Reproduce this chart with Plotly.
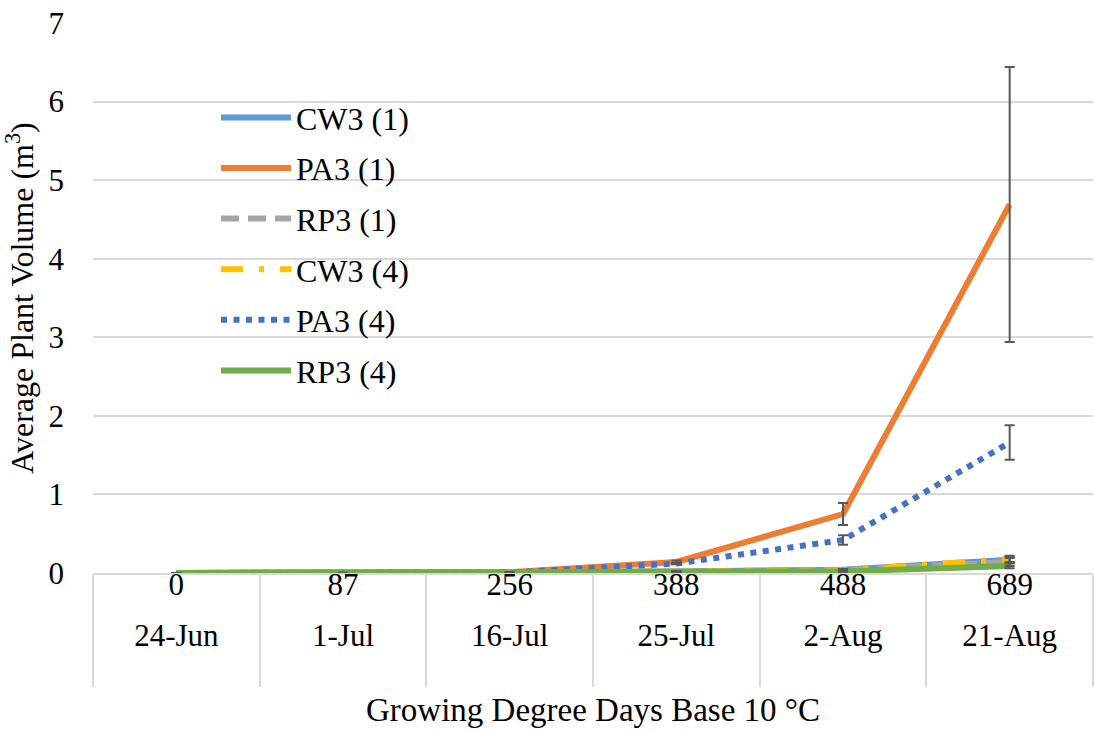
import plotly.graph_objects as go

gdd = ["0", "87", "256", "388", "488", "689"]
dates = ["24-Jun", "1-Jul", "16-Jul", "25-Jul", "2-Aug", "21-Aug"]

series_names = ["CW3 (1)", "PA3 (1)", "RP3 (1)", "CW3 (4)", "PA3 (4)", "RP3 (4)"]
cw3_1 = [0, 0.001, 0.004, 0.02, 0.04, 0.17]
pa3_1 = [0, 0.003, 0.01, 0.14, 0.75, 4.69]
rp3_1 = [0, 0.001, 0.003, 0.02, 0.04, 0.14]
cw3_4 = [0, 0.001, 0.003, 0.015, 0.03, 0.18]
pa3_4 = [0, 0.002, 0.008, 0.12, 0.42, 1.66]
rp3_4 = [0, 0.001, 0.002, 0.01, 0.02, 0.09]

cw3_1_err = [0, 0, 0, 0.005, 0.01, 0.04]
pa3_1_err = [0, 0, 0, 0.02, 0.14, 1.75]
rp3_1_err = [0, 0, 0, 0.005, 0.01, 0.05]
cw3_4_err = [0, 0, 0, 0.005, 0.01, 0.04]
pa3_4_err = [0, 0, 0, 0.01, 0.06, 0.22]
rp3_4_err = [0, 0, 0, 0.003, 0.005, 0.03]

values = [cw3_1, pa3_1, rp3_1, cw3_4, pa3_4, rp3_4]
errors = [cw3_1_err, pa3_1_err, rp3_1_err, cw3_4_err, pa3_4_err, rp3_4_err]
colors = ["#5B9BD5", "#ED7D31", "#A5A5A5", "#FFC000", "#4472C4", "#70AD47"]
dashes = ["solid", "solid", "18px,9px", "22px,16px,5px,16px", "6px,6.5px", "solid"]

FONT = "Liberation Serif"
GRID = "#D9D9D9"
TICK_SIZE = 31

fig = go.Figure()
# lines on the GDD category axis
for i, name in enumerate(series_names):
    fig.add_trace(go.Scatter(
        x=gdd,
        y=values[i],
        name=name,
        mode="lines",
        legendgroup=name,
        line=dict(color=colors[i], width=6, dash=dashes[i]),
        xaxis="x", yaxis="y",
    ))
# error bars on the date category axis (same positions)
for i, name in enumerate(series_names):
    fig.add_trace(go.Scatter(
        x=dates,
        y=values[i],
        name=name,
        mode="markers",
        marker=dict(size=0, color=colors[i], opacity=0),
        legendgroup=name,
        showlegend=False,
        hoverinfo="skip",
        error_y=dict(type="data", array=errors[i], visible=True,
                     color="#595959", thickness=2, width=5),
        xaxis="x2", yaxis="y",
    ))

fig.update_layout(
    width=1094, height=730,
    margin=dict(l=93, r=1, t=23, b=157),
    paper_bgcolor="white", plot_bgcolor="white",
    font=dict(family=FONT, size=TICK_SIZE, color="black"),
    showlegend=True,
    legend=dict(
        x=0.123, y=0.878, xanchor="left", yanchor="top",
        bgcolor="rgba(0,0,0,0)", itemwidth=70,
        tracegroupgap=6,
        font=dict(family=FONT, size=32, color="black"),
    ),
    xaxis=dict(
        type="category",
        categoryorder="array", categoryarray=gdd,
        range=[-0.5, 5.5],
        automargin=False,
        showgrid=False,
        showline=True, linecolor=GRID, linewidth=2,
        ticks="outside", tickson="boundaries", ticklen=112,
        tickcolor=GRID, tickwidth=2,
        ticklabelstandoff=-17,
        tickfont=dict(family=FONT, size=TICK_SIZE, color="black"),
        title=dict(text="Growing Degree Days Base 10 °C",
                   font=dict(family=FONT, size=33, color="black"), standoff=97),
    ),
    xaxis2=dict(
        type="category",
        categoryorder="array", categoryarray=dates,
        overlaying="x", anchor="y", side="bottom",
        range=[-0.5, 5.5],
        automargin=False,
        showgrid=False, showline=False, zeroline=False, ticks="",
        ticklabelstandoff=41,
        tickfont=dict(family=FONT, size=TICK_SIZE, color="black"),
    ),
    yaxis=dict(
        range=[0, 7], dtick=1,
        automargin=False,
        showgrid=True, gridcolor=GRID, gridwidth=2,
        zeroline=False, showline=False,
        ticklabelstandoff=28,
        ticklabeloverflow="allow",
        tickfont=dict(family=FONT, size=TICK_SIZE, color="black"),
        title=dict(text="Average Plant Volume (m<sup>3</sup>)",
                   font=dict(family=FONT, size=32, color="black"), standoff=13),
    ),
)

fig.write_html("out.html",
               config={"displayModeBar": False},
               post_script="document.body.style.margin='0';")
